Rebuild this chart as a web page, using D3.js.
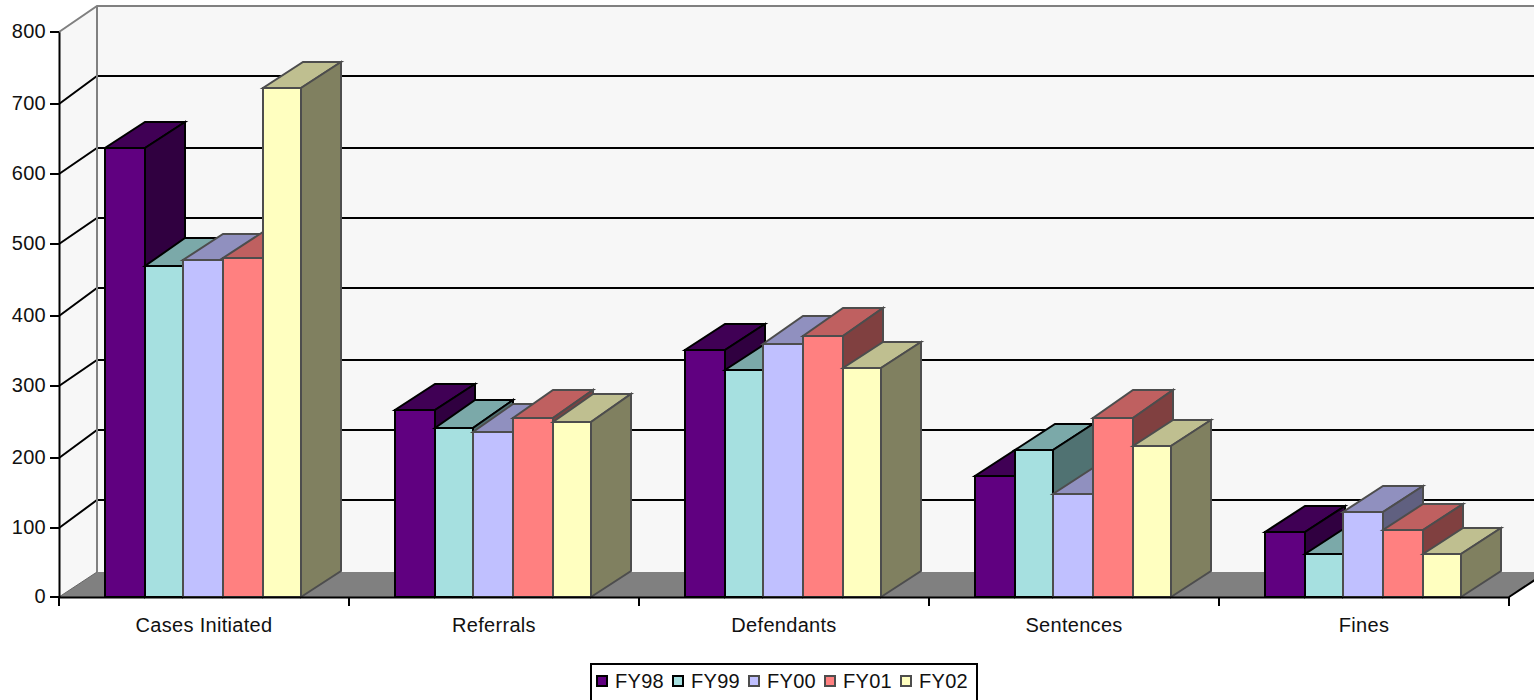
<!DOCTYPE html>
<html>
<head>
<meta charset="utf-8">
<script src="https://cdn.jsdelivr.net/npm/d3@7"></script>
<style>
    html, body { margin: 0; padding: 0; background: #fff; overflow: hidden; }
    svg { display: block; }
    text { font-family: "Liberation Sans", Arial, sans-serif; font-size: 20px; fill: #111; letter-spacing: .3px; }
</style>
</head>
<body>
<div id="chart"></div>
<script>
// DATA
const categories = ['Cases Initiated', 'Referrals', 'Defendants', 'Sentences', 'Fines'];
const seriesNames = ['FY98', 'FY99', 'FY00', 'FY01', 'FY02'];
const fy98 = [636, 266, 351, 172, 93];
const fy99 = [471, 242, 322, 209, 62];
const fy00 = [478, 236, 360, 147, 121];
const fy01 = [481, 256, 372, 256, 96];
const fy02 = [721, 250, 325, 215, 62];
const seriesValues = [fy98, fy99, fy00, fy01, fy02];
const yTicks = [0, 100, 200, 300, 400, 500, 600, 700, 800];

// front, top, side, stroke for each series
const frontColors = ['#600080', '#a6e0e0', '#c0c0ff', '#ff8080', '#ffffc0'];
const topColors = ['#400055', '#7ba9a9', '#9090bf', '#bf6060', '#bfbf90'];
const sideColors = ['#300040', '#507272', '#606080', '#804040', '#808060'];
const strokeColors = ['#000', '#000', '#4d4d4d', '#4d4d4d', '#4d4d4d'];

const width = 1534;
const height = 700;
const plot = { left: 59, right: 1509, top: 31.8, bottom: 597.5 };
const wallDepth = { x: 38, y: -26 };
const barDepth = { x: 40, y: -26 };

// the original sits on a 2px grid, so keep edges on it
const snapX = v => Math.round((v - 1) / 2) * 2 + 1;
const ceilY = v => Math.ceil(v / 2) * 2;
const roundY = v => Math.round(v / 2) * 2;

const svg = d3.select('#chart').append('svg').attr('width', width).attr('height', height);

// SCALES
const y = d3.scaleLinear().domain([0, 800]).range([plot.bottom, plot.top]);
const x0 = d3.scaleBand().domain(categories).range([plot.left, plot.right]).paddingInner(.324).paddingOuter(.162);
const x1 = d3.scaleBand().domain(seriesNames).range([-.6, x0.bandwidth() - .6]);
const tickX = d3.scaleLinear().domain([0, categories.length]).range([plot.left, plot.right]);

const poly = pts => 'M' + pts.map(p => p.join(',')).join('L') + 'Z';

// WALLS AND FLOOR
const xL = plot.left, xR = plot.right, yB = 597, yT = ceilY(y(800));
const backX = v => v + wallDepth.x;
const backY = v => roundY(y(v) + wallDepth.y);

svg.append('path')
    .attr('d', poly([[xL, yB], [backX(xL), backY(0)], [backX(xL), backY(800)], [xL, yT]]))
    .attr('fill', '#f7f7f7');
svg.append('path')
    .attr('d', poly([[backX(xL), backY(0)], [backX(xR), backY(0)], [backX(xR), backY(800)], [backX(xL), backY(800)]]))
    .attr('fill', '#f7f7f7');
svg.append('path')
    .attr('d', poly([[xL, yB], [xR, yB], [backX(xR), backY(0)], [backX(xL), backY(0)]]))
    .attr('fill', '#808080');

// GRIDLINES
svg.append('g').selectAll('path')
    .data(yTicks.filter(d => d > 0 && d < 800))
    .enter()
    .append('path')
    .attr('d', d => `M${xL},${ceilY(y(d))}L${backX(xL)},${backY(d)}L${backX(xR)},${backY(d)}`)
    .attr('fill', 'none')
    .attr('stroke', '#000')
    .attr('stroke-width', 2);

// WALL EDGES
svg.append('path')
    .attr('d', `M${xL},${yT}L${backX(xL)},${backY(800)}L${backX(xR)},${backY(800)}M${backX(xL)},${backY(800)}L${backX(xL)},${backY(0)}`)
    .attr('fill', 'none')
    .attr('stroke', '#808080')
    .attr('stroke-width', 2);
svg.append('path')
    .attr('d', `M${xL},${yB}L${backX(xL)},${backY(0)}`)
    .attr('stroke', '#666')
    .attr('stroke-width', 1);
svg.append('path')
    .attr('d', `M${xR},${yB}L${backX(xR)},${backY(0)}`)
    .attr('stroke', '#000')
    .attr('stroke-width', 2);

// BARS, left to right so later ones paint over earlier ones
const bars = [];
categories.forEach((c, ci) => {
    seriesNames.forEach((s, si) => bars.push({ c, si, value: seriesValues[si][ci] }));
});

const barG = svg.append('g').selectAll('g')
    .data(bars)
    .enter()
    .append('g')
    .attr('stroke', d => strokeColors[d.si])
    .attr('stroke-width', 2)
    .attr('stroke-linejoin', 'miter');

const barLeft = d => snapX(x0(d.c) + x1(seriesNames[d.si]));
const barRight = d => snapX(x0(d.c) + x1(seriesNames[d.si]) + x1.bandwidth());
const barTop = d => ceilY(y(d.value));
const barBack = d => roundY(y(d.value) + barDepth.y);

barG.append('path')
    .attr('fill', d => frontColors[d.si])
    .attr('d', d => poly([[barLeft(d), yB], [barRight(d), yB], [barRight(d), barTop(d)], [barLeft(d), barTop(d)]]));
barG.append('path')
    .attr('fill', d => topColors[d.si])
    .attr('d', d => poly([[barLeft(d), barTop(d)], [barRight(d), barTop(d)], [barRight(d) + barDepth.x, barBack(d)], [barLeft(d) + barDepth.x, barBack(d)]]));
barG.append('path')
    .attr('fill', d => sideColors[d.si])
    .attr('d', d => poly([[barRight(d), yB], [barRight(d) + barDepth.x, yB + barDepth.y], [barRight(d) + barDepth.x, barBack(d)], [barRight(d), barTop(d)]]));

// Y AXIS
const yAxis = svg.append('g')
    .attr('transform', `translate(${xL}, 0)`)
    .call(d3.axisLeft(y).tickValues(yTicks).tickSize(9).tickSizeOuter(0).tickPadding(4));
yAxis.selectAll('.tick').attr('transform', d => `translate(0, ${d === 0 ? yB : ceilY(y(d))})`);
yAxis.selectAll('line').attr('stroke', '#000').attr('stroke-width', 2);
yAxis.select('.domain').attr('stroke', '#000').attr('stroke-width', 2);

// X AXIS
const xAxis = svg.append('g')
    .attr('transform', `translate(0, ${yB})`)
    .call(d3.axisBottom(x0).tickSize(0).tickSizeOuter(0).tickPadding(21));
xAxis.select('.domain').attr('stroke', '#000').attr('stroke-width', 2);
yAxis.attr('font-size', null).attr('font-family', null);
xAxis.attr('font-size', null).attr('font-family', null);

svg.append('g').selectAll('line')
    .data(d3.range(categories.length + 1))
    .enter()
    .append('line')
    .attr('x1', d => tickX(d))
    .attr('x2', d => tickX(d))
    .attr('y1', yB)
    .attr('y2', yB + 9)
    .attr('stroke', '#000')
    .attr('stroke-width', 2);

// LEGEND
const legendX = d3.scaleBand().domain(seriesNames).range([591, 971]);
svg.append('rect')
    .attr('x', 591)
    .attr('y', 664)
    .attr('width', 386)
    .attr('height', 50)
    .attr('fill', '#fff')
    .attr('stroke', '#000')
    .attr('stroke-width', 2);

const legendItem = svg.append('g').selectAll('g')
    .data(seriesNames)
    .enter()
    .append('g')
    .attr('transform', d => `translate(${legendX(d)}, 0)`);

legendItem.append('rect')
    .attr('x', 6)
    .attr('y', 676)
    .attr('width', 10)
    .attr('height', 10)
    .attr('fill', (d, i) => frontColors[i])
    .attr('stroke', (d, i) => strokeColors[i])
    .attr('stroke-width', 2);

legendItem.append('text')
    .attr('x', 24)
    .attr('y', 688)
    .text(d => d);
</script>
</body>
</html>
